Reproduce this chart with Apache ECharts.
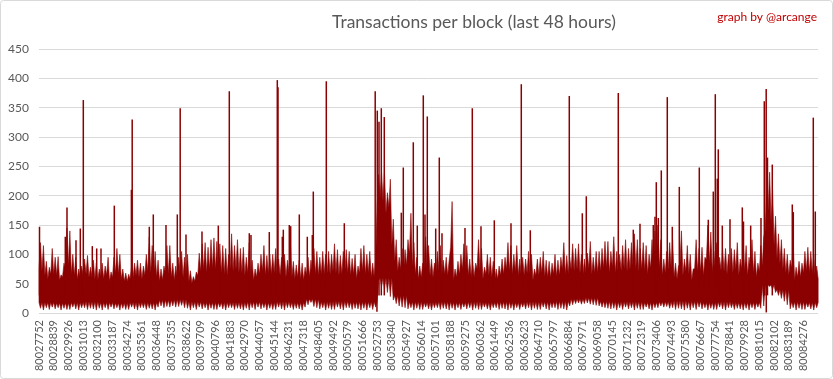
<!DOCTYPE html>
<html>
<head>
<meta charset="utf-8">
<script src="https://cdn.jsdelivr.net/npm/echarts@6/dist/echarts.min.js"></script>
<style>
html,body{margin:0;padding:0;background:#fff;}
#chart{width:833px;height:379px;}
</style>
</head>
<body>
<div id="chart"></div>
<script>
// ---- data ----
const chartTitle = 'Transactions per block (last 48 hours)';
const creditText = 'graph by @arcange';
const blockFirst = 80027752;       // first block shown
const blockLabelStep = 1087;       // blocks between two axis labels
const blockSpan = 57600;           // 48 hours of blocks
const yTicks = [0, 50, 100, 150, 200, 250, 300, 350, 400, 450];
const bandColumnsPerLabel = 5;     // envelope columns per label interval

// upper envelope (local peaks) per column
const bandHigh = [
  120,115,88,78,110, 95,96,65,85,145, 140,100,95,75,80, 92,98,78,90,85, 75,85,80,95,70,
  95,110,100,75,68, 66,80,85,90,85, 80,100,130,115,105, 90,75,80,115,115, 85,80,95,105,95,
  100,72,62,70,102, 118,120,112,125,128, 122,118,115,110,100, 135,115,125,110,112, 95,120,90,75,85,
  100,115,98,100,100, 110,92,95,100,90, 120,88,82,90,85, 78,95,90,110,105, 95,105,100,105,100,
  118,108,98,105,108, 105,93,100,80,110, 115,100,105,85,90, 236,240,240,205,228, 160,125,95,110,108,
  125,170,120,95,80, 85,130,115,92,85, 105,115,90,95,90, 190,75,88,100,118, 115,92,88,85,125,
  110,78,100,95,88, 75,80,92,95,120, 115,100,115,92,95, 92,105,100,75,92, 95,105,90,88,85,
  100,90,95,120,98, 95,118,110,118,100, 92,102,122,95,105, 105,110,122,122,105, 130,105,100,115,125,
  110,120,135,125,110, 120,115,100,125,140, 150,125,92,105,120, 125,85,80,140,92, 115,100,75,125,110,
  112,95,150,138,105, 120,95,110,110,100, 110,108,120,92,120, 115,95,125,105,85, 115,130,200,240,210,
  165,135,125,110,100, 90,120,78,88,85, 105,112,105,100,80
];
// solid core level (valleys between peaks) per column
const bandValley = [
  76,71,64,58,66, 66,64,56,61,76, 81,66,64,58,61, 64,66,61,61,58, 56,61,58,64,54,
  61,68,66,58,54, 54,58,61,64,61, 58,64,71,68,64, 61,54,56,68,66, 61,56,61,66,61,
  64,54,51,54,64, 71,74,68,74,76, 74,71,68,66,64, 76,71,74,68,68, 64,68,61,56,61,
  66,71,64,66,66, 68,61,64,66,61, 68,61,58,61,58, 56,64,61,68,66, 64,66,66,68,66,
  71,68,64,66,68, 68,64,66,58,68, 71,66,68,61,61, 180,195,190,170,180, 115,88,71,74,71,
  81,100,78,66,58, 61,78,74,64,61, 68,71,64,66,64, 112,56,61,66,74, 74,64,61,61,76,
  71,58,66,64,61, 56,58,64,66,74, 71,66,71,64,64, 64,68,66,56,64, 64,68,62,61,60,
  66,62,64,74,66, 66,74,71,74,68, 66,68,76,66,68, 68,71,76,76,68, 78,68,66,72,76,
  71,74,81,76,71, 74,72,66,76,84, 88,76,64,68,74, 76,61,58,84,64, 71,66,56,76,71,
  71,64,91,84,68, 74,64,71,71,66, 71,68,74,64,74, 71,64,76,68,61, 71,80,140,175,150,
  115,92,84,74,68, 64,76,56,61,61, 68,71,68,66,58
];
// lowest values per column (downward tips)
const bandLow = [
  8,5,9,6,10, 7,9,5,8,6, 6,10,7,5,9, 9,6,8,7,5, 8,5,9,6,10,
  7,9,5,8,6, 6,10,7,5,9, 9,6,8,7,5, 10,12,9,11,10, 12,10,11,13,9,
  8,5,9,6,10, 7,9,5,8,6, 6,10,7,5,9, 9,6,8,7,5, 8,5,9,6,10,
  7,9,5,8,6, 6,10,7,5,9, 9,6,8,7,5, 10,14,18,11,9, 7,9,5,8,6,
  6,10,7,5,9, 9,6,8,7,5, 8,5,9,6,10, 55,45,40,35,28, 22,16,12,10,9,
  7,9,5,8,6, 6,10,7,5,9, 9,6,8,7,5, 8,5,9,6,10, 7,9,5,8,6,
  6,10,7,5,9, 9,6,8,7,5, 8,5,9,6,10, 7,9,5,8,6, 6,10,7,5,9,
  9,6,8,7,5, 12,14,16,17,15, 16,17,15,14,13, 12,10,9,8,7, 8,5,9,6,10,
  7,9,5,8,6, 6,10,7,5,9, 9,12,10,11,8, 9,6,8,7,5, 8,5,9,6,10,
  7,9,5,8,6, 6,10,7,5,9, 9,6,8,7,5, 8,5,9,6,10, 8,12,40,45,40,
  35,30,25,20,14, 7,9,5,8,6, 6,10,7,5,9
];
// solid floor level per label interval
const bandFloor = [
  18,17,18,19,18,17,18,18, 22,23, 19,18,18,18,19,18,19,18, 24, 19,20,19,19, 60, 30,
  19,18,19,18,19,18,19,18,19,19,20, 24,26,20, 19,19,18,19,21,20,18,19,18,18, 48,40, 19,18
];
// isolated tall blocks
const spikeBlocks = [
  80027789,80029697,80029822,80030488,80030806,80031028,80031693,80032018,80032336,80033320,
  80034584,80034643,80035908,80036203,80037142,80037978,80038192,80038621,80039804,80041009,
  80041823,80043302,80043427,80044780,80045372,80045424,80045742,80045816,80046259,80046363,
  80046999,80047590,80047960,80048034,80048995,80050326,80052611,80052766,80052892,80053062,
  80053283,80054541,80054688,80055428,80055723,80056167,80056293,80056463,80057084,80057350,
  80057550,80059250,80059790,80060433,80061417,80062652,80063413,80064079,80066962,80067924,
  80068219,80070585,80071694,80072190,80073173,80073299,80073395,80073543,80073765,80074208,
  80074578,80075096,80076575,80077240,80077610,80077758,80077905,80077979,80078275,80078845,
  80079754,80079843,80080375,80081137,80081381,80081521,80081617,80081972,80083451,80083525,
  80085004,80085152
];
const spikeValues = [
  147,130,180,124,144,363,114,110,110,183,
  210,330,147,168,150,168,349,134,139,149,
  378,136,133,138,397,385,130,142,150,148,
  168,130,133,207,395,153,378,345,326,349,
  334,171,248,291,149,371,168,335,144,265,
  136,145,349,148,158,153,390,141,370,170,
  199,375,142,152,150,164,223,162,243,368,
  147,215,248,159,207,373,229,279,149,160,
  180,156,149,162,361,382,265,253,185,172,
  333,173
];
// blocks that drop close to zero
const dipBlocks = [80052740, 80081528];
const dipValues = [2, 1];

// ---- chart ----
const RED = '#8b0000';
const GREY_TEXT = '#595959';
const GRID = '#d9d9d9';
const FONT = 'Lato, "Liberation Sans", sans-serif';
const colStep = blockLabelStep / bandColumnsPerLabel;

function bandRender(params, api) {
  if (params.dataIndex !== 0) return null;
  const n = bandHigh.length;
  const floorOf = i => bandFloor[Math.floor(i / bandColumnsPerLabel)];
  const pts = [];
  for (let i = 0; i < n; i++) {
    pts.push(api.coord([i * colStep, bandValley[i]]));
    pts.push(api.coord([(i + 0.5) * colStep, bandHigh[i]]));
  }
  pts.push(api.coord([n * colStep, bandValley[n - 1]]));
  for (let i = n - 1; i >= 0; i--) {
    pts.push(api.coord([(i + 1) * colStep, floorOf(i)]));
    pts.push(api.coord([(i + 0.5) * colStep, bandLow[i]]));
  }
  pts.push(api.coord([0, floorOf(0)]));
  return { type: 'polygon', shape: { points: pts }, style: { fill: RED, stroke: RED, lineWidth: 0.6 } };
}

function lineRender(base) {
  return function (params, api) {
    const a = api.coord([api.value(0), api.value(1)]);
    const b = api.coord([api.value(0), base]);
    return { type: 'line', shape: { x1: a[0], y1: a[1], x2: b[0], y2: b[1] },
             style: { stroke: RED, lineWidth: 1.5 } };
  };
}

const chart = echarts.init(document.getElementById('chart'), null, { renderer: 'canvas' });
chart.setOption({
  animation: false,
  backgroundColor: '#ffffff',
  title: [
    { text: chartTitle, left: 327, top: 8,
      textStyle: { color: GREY_TEXT, fontSize: 17.5, fontWeight: 'normal', fontFamily: FONT } },
    { text: creditText, right: 11, top: 6,
      textStyle: { color: '#c00000', fontSize: 12, fontWeight: 'normal', fontFamily: FONT } }
  ],
  graphic: [{
    type: 'rect', silent: true, z: 100,
    shape: { x: 0.5, y: 0.5, width: 832, height: 378, r: 3 },
    style: { fill: null, stroke: GRID, lineWidth: 1 }
  }],
  grid: { left: 39, right: 15, top: 49, bottom: 66 },
  xAxis: {
    type: 'value', min: 0, max: blockSpan, interval: blockLabelStep,
    axisLine: { show: false }, axisTick: { show: false }, splitLine: { show: false },
    axisLabel: {
      rotate: 90, margin: 7, color: GREY_TEXT, fontSize: 11, fontFamily: FONT,
      showMaxLabel: false,
      formatter: v => (v % blockLabelStep === 0 ? String(blockFirst + v) : '')
    }
  },
  yAxis: {
    type: 'value', min: yTicks[0], max: yTicks[yTicks.length - 1], interval: yTicks[1] - yTicks[0],
    axisLine: { show: false }, axisTick: { show: false },
    splitLine: { lineStyle: { color: GRID, width: 1 } },
    axisLabel: { color: GREY_TEXT, fontSize: 12, fontFamily: FONT, margin: 10 }
  },
  series: [
    { type: 'custom', silent: true, renderItem: bandRender, data: [[0, 0]], z: 2 },
    { type: 'custom', silent: true, renderItem: lineRender(30), z: 3,
      data: spikeBlocks.map((b, i) => [b - blockFirst, spikeValues[i]]) },
    { type: 'custom', silent: true, renderItem: lineRender(45), z: 3,
      data: dipBlocks.map((b, i) => [b - blockFirst, dipValues[i]]) }
  ]
});
</script>
</body>
</html>
